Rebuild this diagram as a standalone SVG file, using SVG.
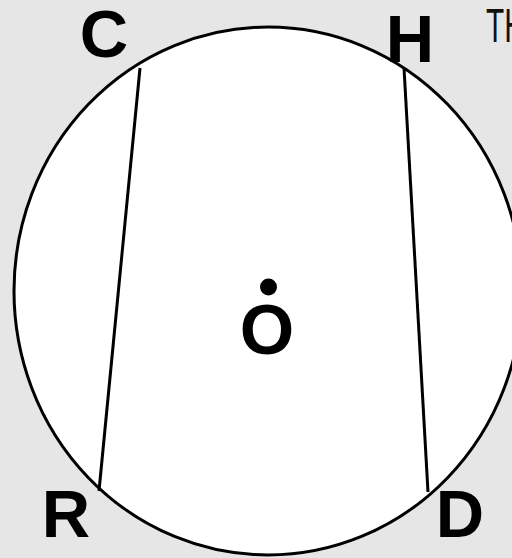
<svg xmlns="http://www.w3.org/2000/svg" width="512" height="558" viewBox="0 0 512 558">
<style>
.lbl{font-family:"Liberation Sans",Arial,sans-serif;font-weight:bold;font-size:67px;fill:#000;text-anchor:middle}
.chord{stroke:#000;stroke-width:3;fill:none;stroke-linecap:butt}
</style>
<rect width="512" height="558" fill="#e6e6e6"/>
<g id="circle">
<ellipse cx="268" cy="291" rx="254" ry="264" fill="#fff" stroke="#000" stroke-width="3"/>
</g>
<g id="connectors">
<line class="chord" x1="140" y1="68" x2="99" y2="491"/>
<line class="chord" x1="404" y1="68" x2="428" y2="492"/>
</g>
<g id="C"><text class="lbl" x="104" y="57">C</text></g>
<g id="H"><text class="lbl" x="410" y="62">H</text></g>
<g id="R"><text class="lbl" x="66" y="537">R</text></g>
<g id="D"><text class="lbl" x="460" y="537">D</text></g>
<g id="O">
<circle cx="268.5" cy="287" r="8.5" fill="#000"/>
<text class="lbl" x="267" y="354" style="font-size:70px">O</text>
</g>
<g id="title">
<text x="0" y="42" transform="translate(486,0) scale(0.62,1)" style="font-family:'Liberation Sans',Arial,sans-serif;font-size:48px;fill:#111">TH</text>
</g>
</svg>
